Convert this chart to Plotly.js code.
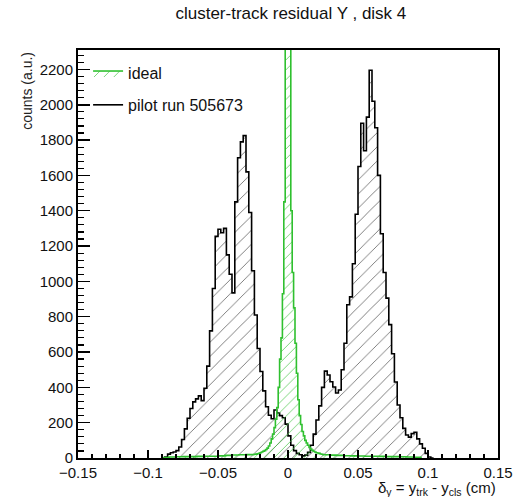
<!DOCTYPE html>
<html>
<head>
<meta charset="utf-8">
<script src="https://cdn.plot.ly/plotly-3.0.1.min.js"></script>
<style>
  html, body { margin: 0; padding: 0; background: #fff; overflow: hidden; }
  #chart { width: 526px; height: 497px; }
</style>
</head>
<body>
<div id="chart"></div>
<script>
// Pilot run 505673: counts per 0.002 cm bin, first bin starting at -0.090 cm
const pilotLo = -0.09;
const pilotBinWidth = 0.002;
const pilotCounts = [
  0, 5, 22, 30, 34, 42, 62, 105, 165, 225,
  280, 318, 335, 352, 325, 395, 520, 720, 960, 1255,
  1295, 1275, 1300, 1150, 1040, 935, 1450, 1700, 1790, 1825,
  1620, 1390, 1060, 810, 620, 490, 380, 290, 242, 222,
  272, 255, 240, 228, 192, 125, 72, 42, 26, 18,
  12, 16, 32, 72, 135, 215, 295, 400, 492, 470,
  432, 402, 368, 385, 500, 650, 868, 912, 1100, 1380,
  1650, 1895, 1740, 1930, 2195, 2020, 1870, 1600, 1270, 1050,
  905, 755, 590, 430, 300, 228, 168, 130, 118, 138,
  146, 108, 80, 55, 26, 6, 0
];

// Ideal residuals: wide bins in the tails, 0.001 cm bins in the core
const idealLeftTailLo = -0.09;
const idealLeftTailWidth = 0.005;
const idealLeftTail = [3, 6, 7, 8, 8, 9, 10, 10, 12, 15, 17, 18, 19];

const idealCoreLo = -0.025;
const idealCoreWidth = 0.001;
const idealCore = [
  20, 21, 22, 24, 26, 30, 34, 38, 42, 48,
  56, 68, 85, 108, 135, 172, 220, 285, 400, 560,
  680, 930, 1450, 2900, 4800, 5600, 5400, 1400, 1050, 850,
  650, 480, 330, 240, 190, 150, 125, 100, 85, 72,
  60, 50, 44, 38, 34, 30, 28, 26, 23, 21
];

const idealRightTailLo = 0.025;
const idealRightTailWidth = 0.005;
const idealRightTail = [18, 16, 15, 13, 12, 11, 10, 10, 9, 8, 8, 7, 6, 4];

const titleText = 'cluster-track residual Y , disk 4';
const idealName = 'ideal';
const pilotName = 'pilot run 505673';
const xTitle = 'δ<sub>y</sub> = y<sub>trk</sub> - y<sub>cls</sub> (cm)';
const yTitle = 'counts (a.u.)';

// Turn one or more runs of uniform bins into an 'hv' step outline that
// starts and ends on the zero line, like a ROOT histogram drawn with fill.
function stepOutline(segments) {
  const xs = [], ys = [];
  segments.forEach(seg => {
    seg.counts.forEach((c, i) => {
      xs.push(seg.lo + i * seg.width);
      ys.push(c);
    });
  });
  const last = segments[segments.length - 1];
  const hi = last.lo + last.counts.length * last.width;
  xs.unshift(segments[0].lo); ys.unshift(0);
  xs.push(hi); ys.push(last.counts[last.counts.length - 1]);
  xs.push(hi); ys.push(0);
  return { x: xs, y: ys };
}

const pilot = stepOutline([{ lo: pilotLo, width: pilotBinWidth, counts: pilotCounts }]);
const ideal = stepOutline([
  { lo: idealLeftTailLo, width: idealLeftTailWidth, counts: idealLeftTail },
  { lo: idealCoreLo, width: idealCoreWidth, counts: idealCore },
  { lo: idealRightTailLo, width: idealRightTailWidth, counts: idealRightTail }
]);

const font = 'Liberation Sans, Arial, Helvetica, sans-serif';

const traces = [
  {
    x: pilot.x, y: pilot.y,
    type: 'scatter', mode: 'lines',
    line: { shape: 'hv', color: '#000', width: 1.6 },
    fill: 'tozeroy',
    fillcolor: 'rgba(0,0,0,0)',
    // thin diagonal hatching
    fillpattern: { shape: '/', fgcolor: '#4a4a4a', bgcolor: 'rgba(0,0,0,0)', size: 10, solidity: 0.07 },
    showlegend: false,
    hoverinfo: 'skip'
  },
  {
    x: ideal.x, y: ideal.y,
    type: 'scatter', mode: 'lines',
    name: idealName,
    legendgroup: 'ideal', legendrank: 1,
    line: { shape: 'hv', color: '#2fc02f', width: 1.6 },
    fill: 'tozeroy',
    fillcolor: 'rgba(0,0,0,0)',
    fillpattern: { shape: '/', fgcolor: '#45c645', bgcolor: 'rgba(0,0,0,0)', size: 7, solidity: 0.1 },
    hoverinfo: 'skip'
  },
  {
    // legend entry for the pilot run (drawn as a plain line)
    x: [null], y: [null],
    type: 'scatter', mode: 'lines',
    name: pilotName,
    legendgroup: 'pilot', legendrank: 2,
    line: { color: '#000', width: 1.6 }
  }
];

const layout = {
  width: 526, height: 497,
  margin: { l: 78, r: 28, t: 50, b: 39, pad: 0 },
  paper_bgcolor: '#fff', plot_bgcolor: '#fff',
  font: { family: font, color: '#111', size: 15 },
  title: {
    text: titleText,
    font: { family: font, size: 17, color: '#111' },
    x: 0.553, xanchor: 'center',
    y: 0.974, yanchor: 'middle'
  },
  showlegend: true,
  legend: {
    x: 0.024, y: 0.985, xanchor: 'left', yanchor: 'top',
    bgcolor: 'rgba(0,0,0,0)',
    font: { family: font, size: 16, color: '#111' },
    tracegroupgap: 8,
    itemwidth: 30
  },
  xaxis: {
    range: [-0.15, 0.15],
    tick0: 0, dtick: 0.05,
    ticks: 'inside', ticklen: 8, tickwidth: 1.5, tickcolor: '#000',
    minor: { ticks: 'inside', ticklen: 4, dtick: 0.01, tickwidth: 1.2, tickcolor: '#000', showgrid: false },
    showline: true, linecolor: '#000', linewidth: 2, mirror: true,
    showgrid: false, zeroline: false,
    tickfont: { family: font, size: 15, color: '#111' }
  },
  yaxis: {
    range: [0, 2310],
    tick0: 0, dtick: 200,
    ticks: 'inside', ticklen: 12, tickwidth: 1.5, tickcolor: '#000',
    minor: { ticks: 'inside', ticklen: 6, dtick: 40, tickwidth: 1.2, tickcolor: '#000', showgrid: false },
    showline: true, linecolor: '#000', linewidth: 2, mirror: true,
    showgrid: false, zeroline: false,
    tickfont: { family: font, size: 15, color: '#111' }
  },
  annotations: [
    {
      text: xTitle,
      xref: 'paper', yref: 'paper',
      x: 1.0, xanchor: 'right',
      y: -0.046, yanchor: 'top',
      showarrow: false,
      font: { family: font, size: 15, color: '#111' }
    },
    {
      text: yTitle,
      xref: 'paper', yref: 'paper',
      x: -0.098, xanchor: 'right',
      y: 1.0, yanchor: 'top',
      textangle: -90,
      showarrow: false,
      font: { family: font, size: 14, color: '#222' }
    }
  ]
};

Plotly.newPlot('chart', traces, layout, { staticPlot: true, displayModeBar: false });
</script>
</body>
</html>
